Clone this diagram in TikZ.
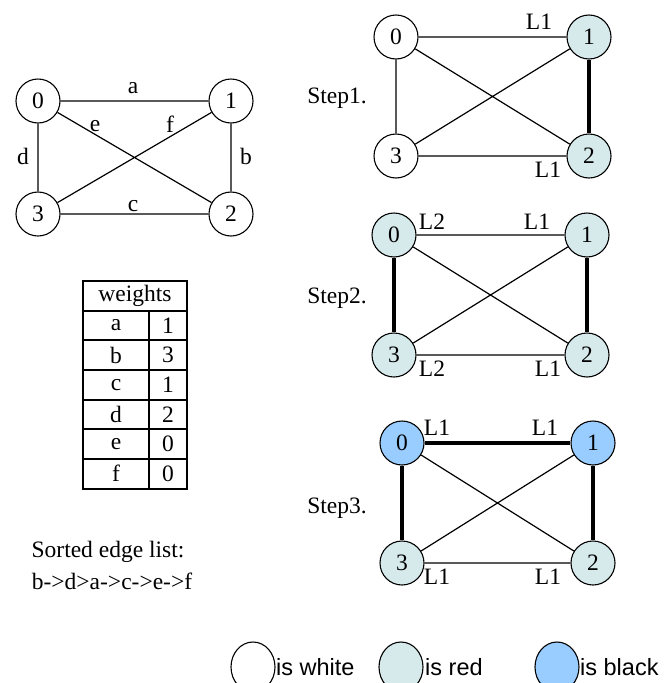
\documentclass[tikz,border=0pt]{standalone}
\usepackage{fontspec}
\setmainfont{Liberation Serif}
\setsansfont{Liberation Sans}
\begin{document}
\begin{tikzpicture}[x=1pt,y=-1pt,
  vtx/.style={circle,draw,line width=1.1pt,minimum size=44pt,inner sep=0pt,font=\fontsize{23.5}{28}\selectfont},
  redv/.style={vtx,fill=nodered},
  blackv/.style={vtx,fill=nodeblack},
  thin/.style={line width=1.2pt},
  thick/.style={line width=3.3pt},
  lbl/.style={inner sep=0pt,font=\fontsize{23.5}{28}\selectfont},
  legtext/.style={inner sep=0pt,anchor=base west,font=\sffamily\fontsize{23.5}{28}\selectfont}
]
\definecolor{nodered}{RGB}{214,234,236}
\definecolor{nodeblack}{RGB}{153,204,255}
\useasboundingbox (0,0) rectangle (672,683);

% ---- left graph
\node[vtx] (L0) at (38,101) {0};
\node[vtx] (L1) at (231,101) {1};
\node[vtx] (L2) at (231,214) {2};
\node[vtx] (L3) at (38,214) {3};
\draw[thin] (L0) -- (L1) (L1) -- (L2) (L2) -- (L3) (L3) -- (L0) (L0) -- (L2) (L1) -- (L3);
\node[lbl] (la) at (133,88) {a};
\node[lbl] (lb) at (246,156) {b};
\node[lbl] (lc) at (133,206) {c};
\node[lbl] (ld) at (23,156) {d};
\node[lbl] (le) at (95,126) {e};
\node[lbl] (lf) at (170,124) {f};

% ---- weights table
\draw[line width=1.1pt] (83,281) rectangle (187,489);
\foreach \yy in {311,340,370,400,429,459} \draw[line width=1.1pt] (83,\yy) -- (187,\yy);
\draw[line width=1.1pt] (149,311) -- (149,489);
\node[lbl] (th) at (135,296) {weights};
\foreach \n/\w [count=\i from 0] in {a/1,b/3,c/1,d/2,e/0,f/0}{
  \node[lbl] (tn\i) at (116,325.5+29.6*\i) {\n};
  \node[lbl] (tw\i) at (168,325.5+29.6*\i) {\w};
}

% ---- sorted edge list
\node[lbl] (s1) at (108,552) {Sorted edge list:};
\node[lbl] (s2) at (112,581) {b->d>a->c->e->f};

% ---- step 1
\node[lbl] (st1) at (337,98) {Step1.};
\node[vtx] (A0) at (396,37) {0};
\node[redv] (A1) at (589,37) {1};
\node[redv] (A2) at (589,156) {2};
\node[vtx] (A3) at (396,156) {3};
\draw[thin] (A0) -- (A1) (A2) -- (A3) (A3) -- (A0) (A0) -- (A2) (A1) -- (A3);
\draw[thick] (A1) -- (A2);
\node[lbl] (a1) at (539,22) {L1};
\node[lbl] (a2) at (548,170) {L1};

% ---- step 2
\node[lbl] (st2) at (337,298) {Step2.};
\node[redv] (B0) at (394,235) {0};
\node[redv] (B1) at (587,235) {1};
\node[redv] (B2) at (587,355) {2};
\node[redv] (B3) at (394,355) {3};
\draw[thin] (B0) -- (B1) (B2) -- (B3) (B0) -- (B2) (B1) -- (B3);
\draw[thick] (B1) -- (B2) (B0) -- (B3);
\node[lbl] (b1) at (432,222) {L2};
\node[lbl] (b2) at (537,222) {L1};
\node[lbl] (b3) at (432,369) {L2};
\node[lbl] (b4) at (548,369) {L1};

% ---- step 3
\node[lbl] (st3) at (337,508) {Step3.};
\node[blackv] (C0) at (402,443) {0};
\node[blackv] (C1) at (593,443) {1};
\node[redv] (C2) at (593,563) {2};
\node[redv] (C3) at (402,563) {3};
\draw[thin] (C2) -- (C3) (C0) -- (C2) (C1) -- (C3);
\draw[thick] (C0) -- (C1) (C1) -- (C2) (C0) -- (C3);
\node[lbl] (c1) at (437,428) {L1};
\node[lbl] (c2) at (545,428) {L1};
\node[lbl] (c3) at (437,577) {L1};
\node[lbl] (c4) at (548,577) {L1};

% ---- legend
\draw[line width=1.1pt] (253,667) ellipse [x radius=22, y radius=25];
\draw[line width=1.1pt,fill=nodered] (401,667) ellipse [x radius=22, y radius=25];
\draw[line width=1.1pt,fill=nodeblack] (557,667) ellipse [x radius=22, y radius=25];
\node[legtext] (g1) at (276,675) {is white};
\node[legtext] (g2) at (425,675) {is red};
\node[legtext] (g3) at (580,675) {is black};
\end{tikzpicture}
\end{document}
